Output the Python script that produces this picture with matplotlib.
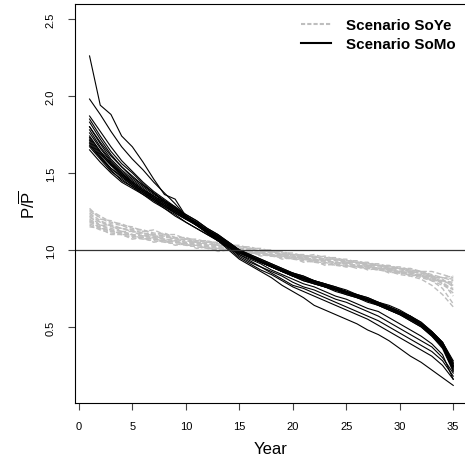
import matplotlib
matplotlib.use("Agg")
import matplotlib.pyplot as plt
from matplotlib.lines import Line2D

plt.rcParams['font.family'] = ['Liberation Sans', 'DejaVu Sans']
plt.rcParams['mathtext.fontset'] = 'custom'
plt.rcParams['mathtext.rm'] = 'Liberation Sans'

years = list(range(1, 36))

# Scenario SoMo runs (black solid)
somo = [
    [1.65, 1.57, 1.50, 1.44, 1.40, 1.36, 1.31, 1.27, 1.23, 1.18, 1.14, 1.10, 1.06, 1.02, 0.98, 0.95, 0.92, 0.89, 0.86, 0.84, 0.81, 0.79, 0.77, 0.75, 0.73, 0.70, 0.68, 0.65, 0.62, 0.59, 0.56, 0.52, 0.46, 0.39, 0.26],
    [1.67, 1.59, 1.51, 1.46, 1.41, 1.37, 1.32, 1.28, 1.24, 1.20, 1.16, 1.12, 1.08, 1.03, 0.99, 0.96, 0.93, 0.90, 0.87, 0.84, 0.82, 0.79, 0.77, 0.75, 0.72, 0.70, 0.67, 0.65, 0.62, 0.59, 0.55, 0.51, 0.45, 0.38, 0.25],
    [1.68, 1.60, 1.53, 1.47, 1.42, 1.37, 1.33, 1.28, 1.24, 1.20, 1.16, 1.11, 1.07, 1.03, 0.98, 0.95, 0.92, 0.89, 0.86, 0.83, 0.81, 0.78, 0.76, 0.74, 0.72, 0.69, 0.67, 0.64, 0.61, 0.58, 0.55, 0.51, 0.45, 0.37, 0.24],
    [1.70, 1.61, 1.53, 1.48, 1.43, 1.38, 1.33, 1.29, 1.25, 1.21, 1.16, 1.12, 1.08, 1.03, 0.99, 0.96, 0.92, 0.89, 0.86, 0.83, 0.80, 0.78, 0.76, 0.73, 0.71, 0.69, 0.66, 0.64, 0.61, 0.58, 0.54, 0.50, 0.44, 0.37, 0.22],
    [1.71, 1.62, 1.55, 1.48, 1.42, 1.38, 1.34, 1.29, 1.24, 1.20, 1.17, 1.13, 1.09, 1.04, 0.99, 0.96, 0.93, 0.90, 0.87, 0.84, 0.82, 0.79, 0.77, 0.75, 0.73, 0.70, 0.68, 0.65, 0.63, 0.60, 0.57, 0.52, 0.47, 0.40, 0.27],
    [1.72, 1.63, 1.55, 1.49, 1.44, 1.39, 1.34, 1.30, 1.25, 1.21, 1.17, 1.13, 1.08, 1.04, 0.99, 0.96, 0.93, 0.90, 0.87, 0.85, 0.82, 0.80, 0.78, 0.75, 0.73, 0.71, 0.68, 0.66, 0.63, 0.60, 0.56, 0.52, 0.46, 0.38, 0.24],
    [1.73, 1.64, 1.56, 1.50, 1.44, 1.39, 1.35, 1.30, 1.26, 1.21, 1.17, 1.12, 1.08, 1.03, 0.99, 0.95, 0.92, 0.89, 0.86, 0.83, 0.81, 0.79, 0.76, 0.74, 0.72, 0.70, 0.67, 0.65, 0.62, 0.59, 0.56, 0.51, 0.45, 0.38, 0.23],
    [1.74, 1.64, 1.56, 1.49, 1.43, 1.38, 1.33, 1.29, 1.25, 1.21, 1.17, 1.13, 1.09, 1.05, 1.00, 0.96, 0.93, 0.90, 0.87, 0.84, 0.81, 0.79, 0.77, 0.74, 0.72, 0.70, 0.68, 0.65, 0.62, 0.59, 0.56, 0.52, 0.46, 0.39, 0.25],
    [1.76, 1.66, 1.57, 1.50, 1.44, 1.39, 1.35, 1.31, 1.27, 1.23, 1.19, 1.14, 1.10, 1.05, 1.00, 0.97, 0.94, 0.91, 0.88, 0.85, 0.83, 0.80, 0.78, 0.76, 0.73, 0.71, 0.69, 0.66, 0.63, 0.60, 0.57, 0.53, 0.47, 0.40, 0.26],
    [1.78, 1.67, 1.58, 1.51, 1.45, 1.40, 1.35, 1.31, 1.26, 1.22, 1.18, 1.13, 1.09, 1.04, 1.00, 0.96, 0.93, 0.90, 0.87, 0.84, 0.82, 0.80, 0.77, 0.75, 0.73, 0.70, 0.68, 0.65, 0.62, 0.59, 0.55, 0.51, 0.45, 0.37, 0.22],
    [1.80, 1.69, 1.59, 1.52, 1.46, 1.41, 1.36, 1.32, 1.28, 1.23, 1.19, 1.14, 1.10, 1.05, 1.00, 0.97, 0.94, 0.91, 0.88, 0.85, 0.83, 0.80, 0.78, 0.76, 0.74, 0.71, 0.69, 0.66, 0.64, 0.61, 0.57, 0.53, 0.47, 0.40, 0.28],
    [1.83, 1.72, 1.62, 1.54, 1.47, 1.42, 1.37, 1.32, 1.27, 1.22, 1.18, 1.13, 1.09, 1.04, 1.00, 0.96, 0.93, 0.90, 0.87, 0.84, 0.82, 0.79, 0.77, 0.75, 0.72, 0.70, 0.67, 0.65, 0.62, 0.59, 0.55, 0.51, 0.45, 0.38, 0.24],
    [1.69, 1.60, 1.52, 1.45, 1.41, 1.36, 1.32, 1.27, 1.22, 1.18, 1.14, 1.10, 1.06, 1.02, 0.98, 0.95, 0.92, 0.89, 0.86, 0.83, 0.80, 0.78, 0.76, 0.74, 0.71, 0.69, 0.67, 0.64, 0.61, 0.58, 0.54, 0.50, 0.44, 0.36, 0.21],
    [1.85, 1.74, 1.64, 1.56, 1.50, 1.43, 1.37, 1.31, 1.26, 1.21, 1.16, 1.11, 1.06, 1.00, 0.94, 0.90, 0.86, 0.82, 0.77, 0.73, 0.69, 0.64, 0.61, 0.58, 0.55, 0.52, 0.48, 0.45, 0.41, 0.36, 0.31, 0.27, 0.22, 0.17, 0.12],
    [1.98, 1.88, 1.77, 1.67, 1.59, 1.52, 1.44, 1.37, 1.30, 1.22, 1.17, 1.12, 1.06, 1.01, 0.95, 0.91, 0.87, 0.84, 0.80, 0.76, 0.73, 0.70, 0.67, 0.64, 0.61, 0.58, 0.55, 0.51, 0.47, 0.43, 0.39, 0.35, 0.31, 0.25, 0.16],
    [2.26, 1.94, 1.88, 1.74, 1.67, 1.57, 1.46, 1.36, 1.33, 1.22, 1.16, 1.11, 1.06, 1.02, 0.96, 0.92, 0.89, 0.85, 0.81, 0.77, 0.75, 0.72, 0.69, 0.66, 0.63, 0.60, 0.57, 0.54, 0.50, 0.46, 0.42, 0.38, 0.34, 0.28, 0.18],
    [1.87, 1.77, 1.67, 1.58, 1.51, 1.44, 1.38, 1.33, 1.28, 1.22, 1.17, 1.12, 1.07, 1.02, 0.97, 0.93, 0.89, 0.86, 0.83, 0.79, 0.76, 0.74, 0.71, 0.68, 0.66, 0.63, 0.60, 0.57, 0.53, 0.49, 0.45, 0.41, 0.37, 0.30, 0.20],
    [1.80, 1.70, 1.61, 1.54, 1.48, 1.42, 1.37, 1.32, 1.27, 1.22, 1.17, 1.12, 1.07, 1.02, 0.97, 0.94, 0.91, 0.87, 0.84, 0.81, 0.78, 0.76, 0.73, 0.70, 0.68, 0.65, 0.62, 0.60, 0.56, 0.52, 0.48, 0.44, 0.39, 0.32, 0.16],
]

# Scenario SoYe runs (grey dashed)
soye = [
    [1.27, 1.20, 1.19, 1.16, 1.15, 1.12, 1.13, 1.10, 1.10, 1.07, 1.07, 1.05, 1.05, 1.03, 1.03, 1.01, 1.01, 0.99, 0.99, 0.97, 0.97, 0.95, 0.96, 0.94, 0.94, 0.92, 0.92, 0.90, 0.90, 0.88, 0.88, 0.86, 0.86, 0.84, 0.82],
    [1.25, 1.21, 1.17, 1.16, 1.13, 1.13, 1.10, 1.11, 1.08, 1.08, 1.05, 1.06, 1.03, 1.04, 1.02, 1.01, 0.99, 0.99, 0.97, 0.97, 0.96, 0.96, 0.94, 0.94, 0.92, 0.92, 0.90, 0.90, 0.88, 0.88, 0.86, 0.86, 0.83, 0.82, 0.80],
    [1.23, 1.18, 1.16, 1.14, 1.12, 1.10, 1.09, 1.08, 1.08, 1.06, 1.05, 1.04, 1.03, 1.02, 1.01, 1.00, 0.99, 0.98, 0.97, 0.96, 0.95, 0.94, 0.94, 0.93, 0.92, 0.91, 0.90, 0.89, 0.88, 0.87, 0.86, 0.85, 0.83, 0.81, 0.76],
    [1.22, 1.16, 1.16, 1.12, 1.12, 1.09, 1.10, 1.06, 1.08, 1.04, 1.05, 1.03, 1.03, 1.00, 1.01, 0.98, 0.99, 0.96, 0.97, 0.95, 0.95, 0.93, 0.94, 0.91, 0.92, 0.89, 0.90, 0.88, 0.88, 0.85, 0.86, 0.83, 0.82, 0.79, 0.74],
    [1.20, 1.16, 1.14, 1.12, 1.10, 1.09, 1.08, 1.07, 1.06, 1.05, 1.04, 1.03, 1.02, 1.01, 1.00, 0.99, 0.98, 0.97, 0.96, 0.95, 0.94, 0.94, 0.93, 0.92, 0.91, 0.90, 0.89, 0.88, 0.87, 0.86, 0.85, 0.83, 0.80, 0.75, 0.65],
    [1.19, 1.14, 1.13, 1.10, 1.10, 1.07, 1.08, 1.05, 1.06, 1.03, 1.03, 1.01, 1.01, 1.00, 1.00, 0.98, 0.98, 0.96, 0.96, 0.94, 0.94, 0.92, 0.92, 0.90, 0.90, 0.88, 0.89, 0.87, 0.87, 0.85, 0.85, 0.83, 0.82, 0.78, 0.72],
    [1.18, 1.15, 1.12, 1.11, 1.09, 1.08, 1.07, 1.06, 1.05, 1.04, 1.03, 1.02, 1.01, 1.00, 0.99, 0.98, 0.97, 0.96, 0.95, 0.95, 0.94, 0.93, 0.92, 0.91, 0.90, 0.89, 0.88, 0.87, 0.86, 0.84, 0.83, 0.81, 0.77, 0.71, 0.63],
    [1.16, 1.13, 1.11, 1.10, 1.08, 1.07, 1.06, 1.05, 1.04, 1.03, 1.02, 1.01, 1.00, 1.00, 0.99, 0.98, 0.97, 0.96, 0.95, 0.94, 0.93, 0.92, 0.91, 0.90, 0.89, 0.89, 0.88, 0.87, 0.86, 0.85, 0.84, 0.82, 0.80, 0.77, 0.75],
    [1.15, 1.14, 1.10, 1.10, 1.07, 1.08, 1.05, 1.06, 1.03, 1.04, 1.01, 1.02, 0.99, 1.00, 0.98, 0.99, 0.96, 0.97, 0.94, 0.95, 0.92, 0.93, 0.90, 0.91, 0.89, 0.90, 0.87, 0.88, 0.85, 0.86, 0.83, 0.84, 0.80, 0.80, 0.78],
    [1.24, 1.19, 1.16, 1.14, 1.13, 1.11, 1.10, 1.09, 1.08, 1.06, 1.05, 1.04, 1.03, 1.02, 1.01, 1.00, 0.99, 0.98, 0.98, 0.97, 0.96, 0.95, 0.94, 0.94, 0.93, 0.92, 0.91, 0.90, 0.89, 0.88, 0.87, 0.86, 0.84, 0.82, 0.81],
    [1.21, 1.18, 1.15, 1.14, 1.12, 1.11, 1.09, 1.09, 1.07, 1.07, 1.05, 1.05, 1.03, 1.03, 1.01, 1.01, 0.99, 0.99, 0.97, 0.97, 0.95, 0.96, 0.94, 0.94, 0.92, 0.92, 0.90, 0.90, 0.88, 0.88, 0.86, 0.85, 0.82, 0.80, 0.79],
    [1.17, 1.14, 1.12, 1.11, 1.09, 1.08, 1.07, 1.06, 1.05, 1.04, 1.03, 1.02, 1.01, 1.01, 1.00, 0.99, 0.98, 0.97, 0.96, 0.95, 0.94, 0.93, 0.93, 0.92, 0.91, 0.90, 0.89, 0.88, 0.87, 0.86, 0.85, 0.84, 0.83, 0.82, 0.83],
    [1.26, 1.22, 1.18, 1.17, 1.14, 1.13, 1.11, 1.10, 1.08, 1.08, 1.06, 1.06, 1.04, 1.04, 1.02, 1.02, 1.00, 1.00, 0.98, 0.98, 0.96, 0.97, 0.95, 0.95, 0.93, 0.93, 0.91, 0.91, 0.89, 0.89, 0.87, 0.86, 0.83, 0.79, 0.70],
    [1.19, 1.16, 1.13, 1.12, 1.10, 1.09, 1.08, 1.07, 1.06, 1.05, 1.04, 1.03, 1.02, 1.01, 1.00, 0.99, 0.98, 0.97, 0.97, 0.96, 0.95, 0.94, 0.93, 0.92, 0.91, 0.90, 0.89, 0.88, 0.87, 0.85, 0.84, 0.83, 0.81, 0.80, 0.77],
]

x_ticks = [0, 5, 10, 15, 20, 25, 30, 35]
y_ticks = [0.5, 1.0, 1.5, 2.0, 2.5]
labels = ['Scenario SoYe', 'Scenario SoMo']
grey = '#BEBEBE'

fig = plt.figure(figsize=(4.65, 4.6), dpi=100)
ax = fig.add_axes([0.162, 0.122, 0.838, 0.867])

for run in soye:
    ax.plot(years, run, color=grey, lw=1.0, dashes=(3.5, 1.8))
for run in somo:
    ax.plot(years, run, color='black', lw=0.8)

ax.axhline(1.0, color='#333333', lw=0.9)

ax.set_xlim(-0.33, 36.1)
ax.set_ylim(0.0065, 2.597)
ax.set_xticks(x_ticks)
ax.set_yticks(y_ticks)
ax.set_xticklabels([str(v) for v in x_ticks], fontsize=8)
ax.set_yticklabels(['%.1f' % v for v in y_ticks], fontsize=8, rotation=90, va='center')
ax.tick_params(length=5, width=0.8, color='#444444')
ax.tick_params(axis='x', pad=8)
ax.tick_params(axis='y', pad=9)
ax.spines['right'].set_visible(False)
for s in ['left', 'bottom', 'top']:
    ax.spines[s].set_linewidth(0.8)

ax.set_xlabel('Year', fontsize=12, labelpad=7)
ax.set_ylabel(r'P/$\overline{\mathrm{P}}$', fontsize=12, labelpad=6)

handles = [Line2D([], [], color=grey, lw=1.5, dashes=(2, 1)),
           Line2D([], [], color='black', lw=1.5)]
ax.legend(handles, labels, loc='upper left', bbox_to_anchor=(301 / 465, 1 - 19.5 / 460),
          bbox_transform=fig.transFigure, frameon=False, borderpad=0, borderaxespad=0,
          handlelength=2.0, handletextpad=1.0, labelspacing=0.32,
          prop={'weight': 'bold', 'size': 10.9})

fig.savefig('out.png', dpi=100)
